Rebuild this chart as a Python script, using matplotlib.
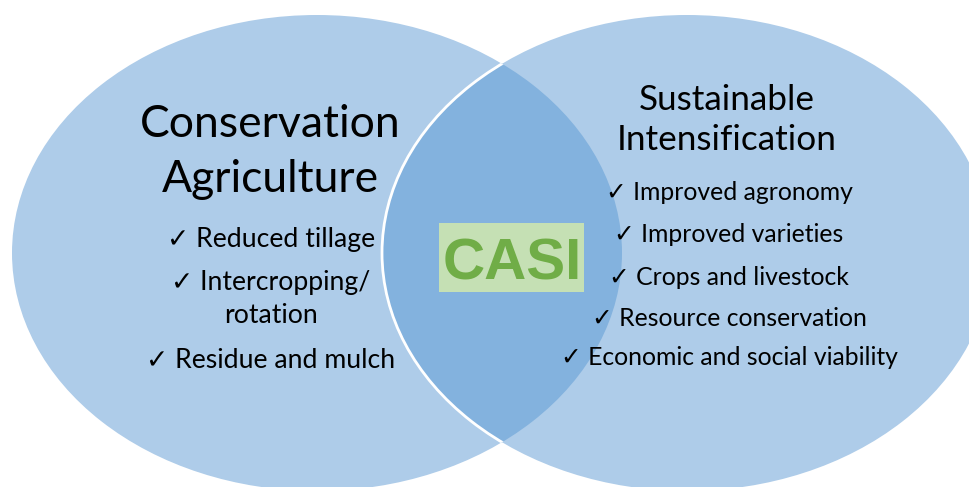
import matplotlib.pyplot as plt
from matplotlib.patches import Ellipse, Rectangle

# venn content
left_title = ['Conservation', 'Agriculture']
left_items = ['\u2713 Reduced tillage', '\u2713 Intercropping/', 'rotation', '\u2713 Residue and mulch']
right_title = ['Sustainable', 'Intensification']
right_items = ['\u2713 Improved agronomy', '\u2713 Improved varieties', '\u2713 Crops and livestock',
               '\u2713 Resource conservation', '\u2713 Economic and social viability']
center_label = 'CASI'

light = '#AECCE9'
dark = '#83B2DE'
fam = ['Lato', 'DejaVu Sans']

fig = plt.figure(figsize=(9.69, 4.87), dpi=100)
ax = fig.add_axes([0, 0, 1, 1])
ax.set_xlim(0, 969)
ax.set_ylim(487, 0)
ax.axis('off')

left = Ellipse((317, 253), 610, 476, facecolor=light, edgecolor='none')
ax.add_patch(left)
right = Ellipse((687, 253), 610, 476, facecolor=light, edgecolor='none')
ax.add_patch(right)
# overlap region: right ellipse clipped to the left one
overlap = Ellipse((687, 253), 610, 476, facecolor=dark, edgecolor='white', lw=2)
ax.add_patch(overlap)
overlap.set_clip_path(left)

# left side text
for txt, y in zip(left_title, [137, 192]):
    ax.text(270, y, txt, fontsize=32, family=fam, ha='center', va='baseline')
for txt, y in zip(left_items, [247, 290, 323, 368]):
    ax.text(271, y, txt, fontsize=19.2, family=fam, ha='center', va='baseline')

# right side text
for txt, y in zip(right_title, [110, 150]):
    ax.text(727, y, txt, fontsize=25.3, family=fam, ha='center', va='baseline')
for txt, y in zip(right_items, [200, 242, 285, 326, 365]):
    ax.text(729, y, txt, fontsize=17.8, family=fam, ha='center', va='baseline')

# CASI label
ax.add_patch(Rectangle((439, 223), 145, 69, facecolor='#C5E0B4', edgecolor='none'))
ax.text(512, 280, center_label, fontsize=42, fontweight='bold', family='Liberation Sans',
        color='#70AD47', ha='center', va='baseline')

fig.savefig('out.png', dpi=100)
